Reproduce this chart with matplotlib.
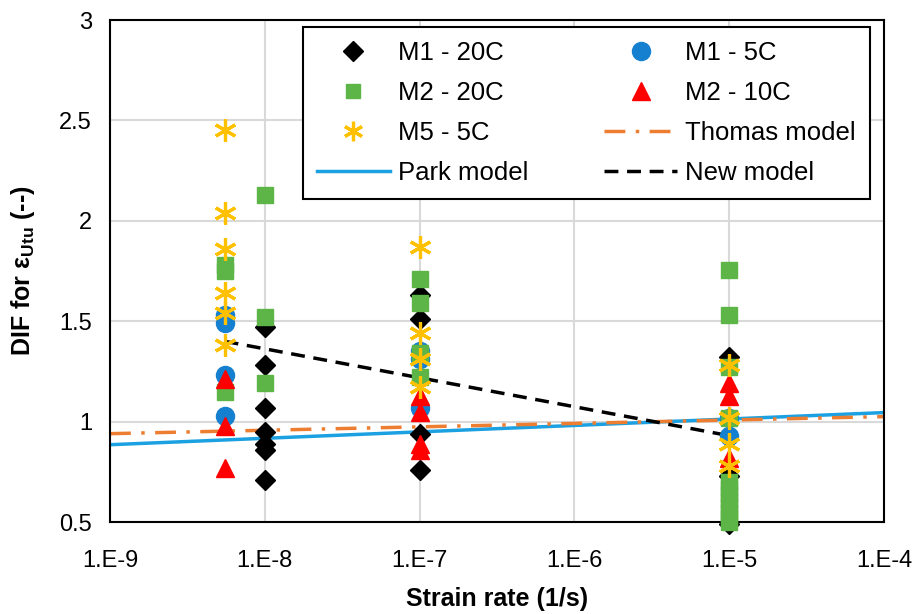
import numpy as np
import matplotlib.pyplot as plt
from matplotlib.lines import Line2D

plt.rcParams['font.family'] = ['Liberation Sans', 'DejaVu Sans']
plt.rcParams['mathtext.fontset'] = 'custom'
plt.rcParams['mathtext.rm'] = 'Liberation Sans'
plt.rcParams['mathtext.bf'] = 'Liberation Sans:bold'

# strain rates used in the tests (1/s)
r0, r1, r2, r3 = 5.5e-9, 1e-8, 1e-7, 1e-5

# M1 - 20C
m1_20_x = [r1] * 7 + [r2] * 4 + [r3] * 3
m1_20_y = [1.47, 1.28, 1.07, 0.95, 0.89, 0.86, 0.71,
           1.63, 1.51, 0.94, 0.76,
           1.32, 0.73, 0.49]

# M1 - 5C
m1_5_x = [r0] * 4 + [r2] * 3 + [r3] * 2
m1_5_y = [1.53, 1.49, 1.23, 1.03,
          1.35, 1.31, 1.07,
          1.02, 0.93]

# M2 - 20C
m2_20_x = [r0] * 3 + [r1] * 3 + [r2] * 4 + [r3] * 12
m2_20_y = [1.78, 1.75, 1.15,
           2.13, 1.52, 1.19,
           1.71, 1.59, 1.34, 1.22,
           1.755, 1.53, 1.27, 1.02, 0.70, 0.67, 0.64, 0.61, 0.58, 0.55, 0.52, 0.50]

# M2 - 10C
m2_10_x = [r0] * 3 + [r2] * 4 + [r3] * 3
m2_10_y = [1.21, 0.98, 0.77,
           1.13, 1.05, 0.89, 0.86,
           1.19, 1.13, 0.82]

# M5 - 5C
m5_5_x = [r0] * 6 + [r2] * 4 + [r3] * 4
m5_5_y = [2.45, 2.04, 1.86, 1.64, 1.54, 1.38,
          1.87, 1.44, 1.31, 1.17,
          1.28, 1.02, 0.89, 0.78]

# model curves
park_x = [1e-9, 1e-4]
park_y = [0.885, 1.045]
thomas_x = [1e-9, 1e-4]
thomas_y = [0.94, 1.025]
new_x = [r0, r3]
new_y = [1.40, 0.93]

xticks = [1e-9, 1e-8, 1e-7, 1e-6, 1e-5, 1e-4]
xtick_labels = ['1.E-9', '1.E-8', '1.E-7', '1.E-6', '1.E-5', '1.E-4']
yticks = [0.5, 1, 1.5, 2, 2.5, 3]
ytick_labels = ['0.5', '1', '1.5', '2', '2.5', '3']

fig = plt.figure(figsize=(9.22, 6.14), dpi=100)
ax = fig.add_axes([0.1193, 0.1498, 0.8395, 0.8176])

ax.plot(park_x, park_y, color='#1BA1E2', lw=2.5, zorder=2)
ax.plot(thomas_x, thomas_y, color='#ED7D31', lw=2.5,
        linestyle=(0, (6, 3, 1, 3)), zorder=2)
ax.plot(new_x, new_y, color='black', lw=2.5, linestyle=(0, (4, 2.5)), zorder=2)

kw = dict(linestyle='none', clip_on=False, zorder=3)
ax.plot(m1_20_x, m1_20_y, marker='D', ms=10, color='black', **kw)
ax.plot(m1_5_x, m1_5_y, marker='o', ms=13, color='#1580D0', **kw)
ax.plot(m2_20_x, m2_20_y, marker='s', ms=11, color='#5DB548', **kw)
ax.plot(m2_10_x, m2_10_y, marker='^', ms=13, color='#FF0000', **kw)
ax.plot(m5_5_x, m5_5_y, marker=(6, 2, 0), ms=16, mew=2.3,
        color='#FFC000', **kw)

ax.set_xscale('log')
ax.set_xlim(1e-9, 1e-4)
ax.set_ylim(0.5, 3)
ax.set_xticks(xticks)
ax.set_xticklabels(xtick_labels)
ax.minorticks_off()
ax.set_yticks(yticks)
ax.set_yticklabels(ytick_labels)
ax.tick_params(length=0, labelsize=17)
ax.tick_params(axis='x', pad=20)
ax.tick_params(axis='y', pad=13)
ax.grid(True, color='#D9D9D9', lw=1.5)
ax.set_axisbelow(True)
for s in ax.spines.values():
    s.set_linewidth(1.5)

ax.set_xlabel('Strain rate (1/s)', fontsize=18, fontweight='bold', labelpad=11)
ax.set_ylabel(r'DIF for $\mathbf{\varepsilon_{Utu}}$ (--)', fontsize=18,
              fontweight='bold', labelpad=16)

handles = [
    Line2D([], [], marker='D', ms=10, color='black', ls='none'),
    Line2D([], [], marker='s', ms=10, color='#5DB548', ls='none'),
    Line2D([], [], marker=(6, 2, 0), ms=14, mew=2.3, color='#FFC000', ls='none'),
    Line2D([], [], color='#1BA1E2', lw=2.5),
    Line2D([], [], marker='o', ms=13, color='#1580D0', ls='none'),
    Line2D([], [], marker='^', ms=13, color='#FF0000', ls='none'),
    Line2D([], [], color='#ED7D31', lw=2.5, linestyle=(0, (6, 3, 1, 3))),
    Line2D([], [], color='black', lw=2.5, linestyle=(0, (4, 2.5))),
]
labels = ['M1 - 20C', 'M2 - 20C', 'M5 - 5C', 'Park model',
          'M1 - 5C', 'M2 - 10C', 'Thomas model', 'New model']
leg = ax.legend(handles, labels, ncol=2, loc='upper left',
                bbox_to_anchor=(0.249, 0.986), fontsize=18.5, frameon=True,
                fancybox=False, edgecolor='black', framealpha=1,
                handlelength=2.85, handletextpad=0.3, columnspacing=2.95,
                labelspacing=0.62, borderpad=0.55, borderaxespad=0)
leg.get_frame().set_linewidth(1.5)

fig.savefig('out.png', dpi=100)
